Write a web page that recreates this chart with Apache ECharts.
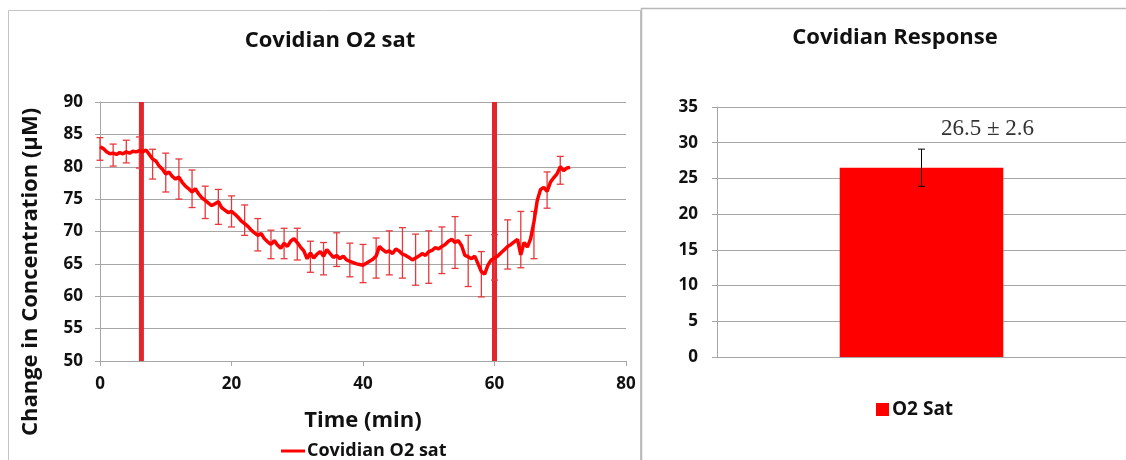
<!DOCTYPE html>
<html><head><meta charset="utf-8">
<script src="https://cdn.jsdelivr.net/npm/echarts@6/dist/echarts.min.js"></script>
<style>html,body{margin:0;padding:0;background:#fff}#c{width:1126px;height:460px}</style>
</head><body><div id="c"></div>
<script>
// ---- Left chart data: Covidian O2 sat time course ----
const timeMin = [0,0.5,1,1.5,2,2.5,3,3.5,4,4.5,5,5.5,6,6.5,7,7.5,8,8.5,9,9.5,10,10.5,11,11.5,12,12.5,13,13.5,14,14.5,15,15.5,16,16.5,17,17.5,18,18.5,19,19.5,20,20.5,21,21.5,22,22.5,23,23.5,24,24.5,25,25.5,26,26.5,27,27.5,28,28.5,29,29.5,30,30.5,31,31.5,32,32.5,33,33.5,34,34.5,35,35.5,36,36.5,37,37.5,38,38.5,39,39.5,40,40.5,41,41.5,42,42.5,43,43.5,44,44.5,45,45.5,46,46.5,47,47.5,48,48.5,49,49.5,50,50.5,51,51.5,52,52.5,53,53.5,54,54.5,55,55.5,56,56.5,57,57.5,58,58.5,59,59.5,60,60.5,61,61.5,62,62.5,63,63.5,64,64.5,65,65.5,66,66.5,67,67.5,68,68.5,69,69.5,70,70.5,71,71.5];
const o2Values = [83.1,82.8,82.3,82.0,82.1,81.9,82.2,82.0,82.3,82.1,82.4,82.3,82.5,82.3,82.6,81.9,81.2,80.9,80.1,79.6,78.9,79.2,78.5,78.1,78.4,77.6,77.0,76.6,76.1,76.6,75.8,75.2,74.8,74.4,74.0,74.3,74.6,73.7,73.3,72.9,73.1,72.7,72.2,71.6,71.2,70.8,70.2,69.8,69.4,69.7,68.9,68.4,68.0,68.6,67.9,67.4,68.2,67.7,68.5,68.9,68.3,67.6,67.0,65.8,66.7,65.9,66.5,66.9,66.2,67.2,66.6,66.0,66.3,65.8,66.2,65.6,65.4,65.2,65.0,64.9,64.8,65.1,65.4,65.7,66.2,67.7,67.2,66.8,67.0,66.6,67.3,67.0,66.5,66.3,66.0,65.6,65.9,66.2,66.6,66.3,66.9,67.1,67.5,67.3,67.7,68.0,68.5,68.8,68.3,68.6,67.8,66.3,66.1,65.8,66.2,65.0,63.8,63.4,64.8,65.6,65.9,66.2,66.7,67.2,67.7,68.0,68.4,68.8,66.4,68.3,67.6,68.9,71.5,74.8,76.5,76.8,76.2,77.6,78.3,78.9,80.0,79.4,79.8,79.9];
const errTimes = [0,2,4,6,8,10,12,14,16,18,20,22,24,26,28,30,32,34,36,38,40,42,44,46,48,50,52,54,56,58,60,62,64,66,68,70];
const errLow  = [81.0,80.1,80.6,79.8,78.1,76.1,75.0,73.7,72.0,71.1,70.7,69.4,67.0,65.8,65.8,65.6,63.7,63.3,64.6,63.0,62.1,62.8,63.3,62.8,61.7,62.0,63.5,64.3,61.5,59.9,62.5,64.2,64.4,65.8,73.6,77.3];
const errHigh = [84.5,83.5,84.1,84.6,82.7,82.1,81.2,79.5,77.0,76.5,75.5,74.1,72.0,70.2,70.5,70.5,68.5,68.3,69.8,68.2,68.0,69.0,70.1,70.6,69.6,70.1,70.7,72.3,69.4,66.9,69.5,71.8,73.1,73.1,79.2,81.6];
const markerTimes = [6.3, 60];
const leftYRange = [50, 90, 5];
const leftXRange = [0, 80, 20];

// ---- Right chart data: Covidian Response ----
const responseCategories = ['O2 Sat'];
const responseMean = [26.5];
const responseSD = [2.6];
const rightYRange = [0, 35, 5];

const FONT = 'Open Sans';
const GRID_COLOR = '#a6a6a6';
const TXT = '#111';

const chart = echarts.init(document.getElementById('c'));

const markerSeries = markerTimes.map((t, i) => ({
  name: 'marker' + i,
  type: 'line',
  xAxisIndex: 0, yAxisIndex: 0,
  data: [[t, leftYRange[0]], [t, leftYRange[1]]],
  showSymbol: false, silent: true,
  lineStyle: { color: '#e3262d', width: 5 },
  itemStyle: { color: '#e3262d' },
  z: 1, animation: false
}));

function errRender(color, cap, lw) {
  return function (params, api) {
    const x = api.value(0);
    const lo = api.coord([x, api.value(1)]);
    const hi = api.coord([x, api.value(2)]);
    const st = { stroke: color, lineWidth: lw };
    return { type: 'group', children: [
      { type: 'line', shape: { x1: lo[0], y1: lo[1], x2: hi[0], y2: hi[1] }, style: st },
      { type: 'line', shape: { x1: lo[0] - cap, y1: lo[1], x2: lo[0] + cap, y2: lo[1] }, style: st },
      { type: 'line', shape: { x1: hi[0] - cap, y1: hi[1], x2: hi[0] + cap, y2: hi[1] }, style: st }
    ]};
  };
}

const option = {
  animation: false,
  backgroundColor: '#ffffff',
  textStyle: { fontFamily: FONT },
  title: [
    { text: 'Covidian O2 sat', left: 325, top: 25, textAlign: 'center',
      textStyle: { fontFamily: FONT, fontWeight: 'bold', fontSize: 22, color: TXT } },
    { text: 'Covidian Response', left: 890, top: 22, textAlign: 'center',
      textStyle: { fontFamily: FONT, fontWeight: 'bold', fontSize: 22, color: TXT } }
  ],
  legend: [
    { data: ['Covidian O2 sat'], left: 276, top: 437, icon: 'rect', itemWidth: 24, itemHeight: 3, itemGap: 2,
      textStyle: { fontFamily: FONT, fontWeight: 'bold', fontSize: 18, color: TXT, padding: [0,0,0,-3] } },
    { data: ['O2 Sat'], left: 871, top: 395, icon: 'rect', itemWidth: 13, itemHeight: 13, itemGap: 4,
      textStyle: { fontFamily: FONT, fontWeight: 'bold', fontSize: 19, color: TXT, padding: [0,0,0,-2] } }
  ],
  grid: [
    { left: 100, top: 102, width: 526, height: 259 },
    { left: 717, top: 107, right: -4, height: 250 }
  ],
  xAxis: [
    { type: 'value', gridIndex: 0, min: leftXRange[0], max: leftXRange[1], interval: leftXRange[2],
      name: 'Time (min)', nameLocation: 'middle', nameGap: 49,
      nameTextStyle: { fontFamily: FONT, fontWeight: 'bold', fontSize: 22, color: TXT },
      axisLine: { lineStyle: { color: GRID_COLOR } },
      axisTick: { show: true, length: 5, lineStyle: { color: GRID_COLOR } },
      axisLabel: { fontFamily: FONT, fontWeight: 'bold', fontSize: 17, color: TXT, margin: 15 },
      splitLine: { show: false } },
    { type: 'category', gridIndex: 1, data: responseCategories,
      axisLine: { lineStyle: { color: GRID_COLOR } },
      axisTick: { show: false }, axisLabel: { show: false } }
  ],
  yAxis: [
    { type: 'value', gridIndex: 0, min: leftYRange[0], max: leftYRange[1], interval: leftYRange[2],
      axisLine: { show: true, lineStyle: { color: GRID_COLOR } },
      axisTick: { show: true, length: 5, lineStyle: { color: GRID_COLOR } },
      axisLabel: { fontFamily: FONT, fontWeight: 'bold', fontSize: 17, color: TXT, margin: 17 },
      splitLine: { lineStyle: { color: GRID_COLOR, width: 1 } } },
    { type: 'value', gridIndex: 1, min: rightYRange[0], max: rightYRange[1], interval: rightYRange[2],
      axisLine: { show: true, lineStyle: { color: GRID_COLOR } },
      axisTick: { show: true, length: 5, lineStyle: { color: GRID_COLOR } },
      axisLabel: { fontFamily: FONT, fontWeight: 'bold', fontSize: 17, color: TXT, margin: 19 },
      splitLine: { lineStyle: { color: GRID_COLOR, width: 1 } } }
  ],
  graphic: [
    { type: 'rect', shape: { x: 8.5, y: 10.5, width: 632, height: 460 }, style: { fill: 'none', stroke: '#c4c4c4', lineWidth: 1 }, z: -1 },
    { type: 'rect', shape: { x: 641.5, y: 8.5, width: 500, height: 460 }, style: { fill: 'none', stroke: '#b8b8b8', lineWidth: 1.5 }, z: -1 },
    { type: 'text', x: 31, y: 272, rotation: Math.PI / 2,
      style: { text: 'Change in Concentration (\u00b5M)', fontFamily: FONT, fontWeight: 'bold', fontSize: 22, fill: TXT, align: 'center', verticalAlign: 'middle' } }
  ],
  series: [
    ...markerSeries,
    { name: 'errLeft', type: 'custom', xAxisIndex: 0, yAxisIndex: 0,
      data: errTimes.map((t, i) => [t, errLow[i], errHigh[i]]),
      encode: { x: 0, y: [1, 2] },
      renderItem: errRender('#e8383d', 3.5, 1.3), z: 2, silent: true },
    { name: 'Covidian O2 sat', type: 'line', xAxisIndex: 0, yAxisIndex: 0,
      data: timeMin.map((t, i) => [t, o2Values[i]]),
      showSymbol: false, color: '#ff0000',
      lineStyle: { color: '#ff0000', width: 3.5 }, z: 3 },
    { name: 'O2 Sat', type: 'bar', xAxisIndex: 1, yAxisIndex: 1,
      data: responseMean, barWidth: '40%', color: '#ff0000',
      itemStyle: { color: '#ff0000' },
      label: { show: true, position: 'top', offset: [66, -22],
        formatter: (p) => responseMean[p.dataIndex] + ' \u00b1 ' + responseSD[p.dataIndex],
        fontFamily: 'Liberation Serif', fontSize: 23, color: '#333' } },
    { name: 'errRight', type: 'custom', xAxisIndex: 1, yAxisIndex: 1,
      data: responseMean.map((m, i) => [i, m - responseSD[i], m + responseSD[i]]),
      encode: { x: 0, y: [1, 2] },
      renderItem: errRender('#000000', 3.5, 1), z: 4, silent: true }
  ]
};
chart.setOption(option);
</script>
</body></html>
